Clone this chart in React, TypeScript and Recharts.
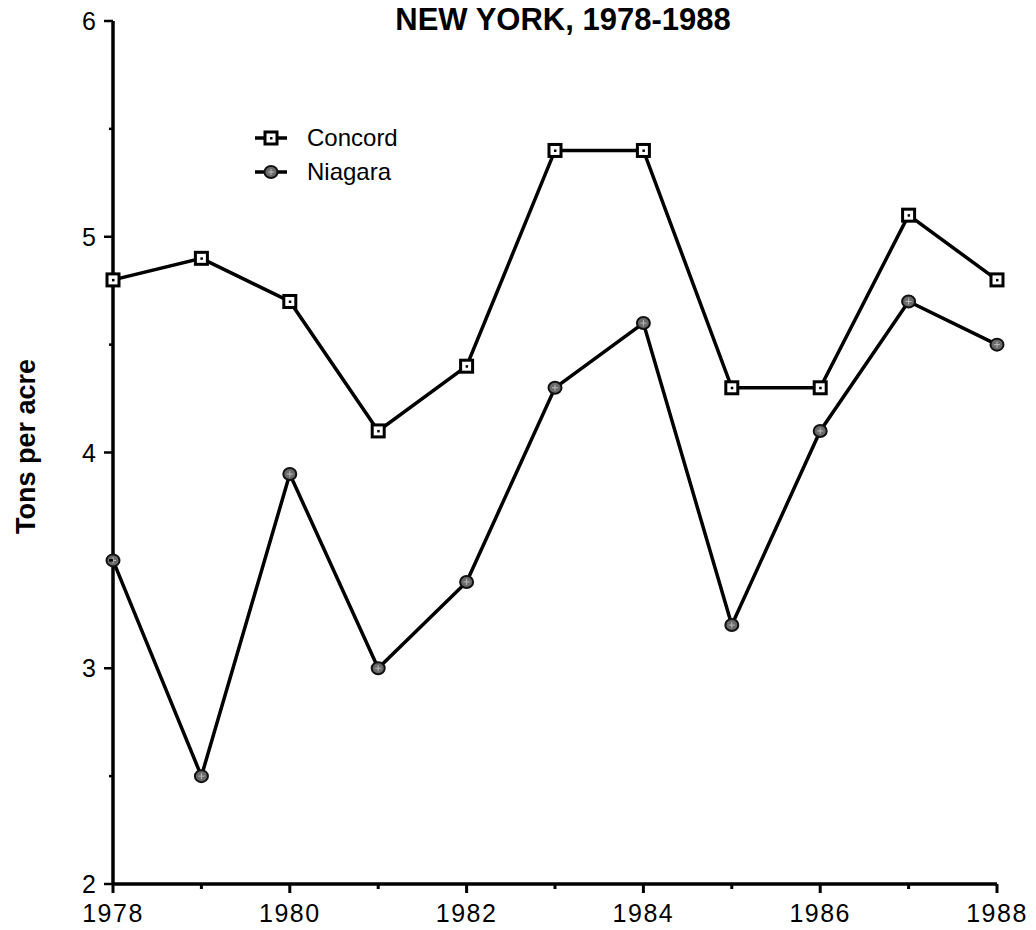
import React from 'react';
import { Legend, Line, LineChart, XAxis, YAxis } from 'recharts';

const years = [1978, 1979, 1980, 1981, 1982, 1983, 1984, 1985, 1986, 1987, 1988];
const concord = [4.8, 4.9, 4.7, 4.1, 4.4, 5.4, 5.4, 4.3, 4.3, 5.1, 4.8];
const niagara = [3.5, 2.5, 3.9, 3.0, 3.4, 4.3, 4.6, 3.2, 4.1, 4.7, 4.5];
const yTicks = [2, 2.5, 3, 3.5, 4, 4.5, 5, 5.5, 6];

const data = years.map((year, i) => ({ year, concord: concord[i], niagara: niagara[i] }));

const FONT = '"Liberation Sans", Arial, Helvetica, sans-serif';

const SquareDot = (props: any) => {
  const { cx, cy } = props;
  if (cx == null || cy == null) return null;
  return (
    <g>
      <rect x={cx - 6} y={cy - 6} width={12} height={12} fill="#fff" stroke="#000" strokeWidth={3} />
      <rect x={cx - 1} y={cy - 1} width={2.5} height={2.5} fill="#000" />
    </g>
  );
};

const RoundDot = (props: any) => {
  const { cx, cy } = props;
  if (cx == null || cy == null) return null;
  return (
    <g>
      <ellipse cx={cx} cy={cy} rx={6.5} ry={6} fill="#6a6a6a" stroke="#111" strokeWidth={2} />
      <path d={`M${cx - 3},${cy} L${cx + 3},${cy} M${cx},${cy - 3} L${cx},${cy + 3}`} stroke="#bbb" strokeWidth={1} />
    </g>
  );
};

const XTick = (props: any) => {
  const { x, y, payload } = props;
  const even = payload.value % 2 === 0;
  return (
    <g>
      <line x1={x} y1={y} x2={x} y2={y + (even ? 9 : 5)} stroke="#000" strokeWidth={3} />
      {even && (
        <text x={x} y={y + 38} textAnchor="middle" fontFamily={FONT} fontSize={25} letterSpacing={1.5} fill="#000">
          {payload.value}
        </text>
      )}
    </g>
  );
};

const YTick = (props: any) => {
  const { x, y, payload } = props;
  const major = Number.isInteger(payload.value);
  return (
    <g>
      <line x1={x - (major ? 9 : 4)} y1={y} x2={x} y2={y} stroke="#000" strokeWidth={2.5} />
      {major && (
        <text x={x - 17} y={y + 9} textAnchor="end" fontFamily={FONT} fontSize={25} fill="#000">
          {payload.value}
        </text>
      )}
    </g>
  );
};

const LegendBox = () => (
  <div style={{ fontFamily: FONT, fontSize: 24, color: '#000' }}>
    {[
      { name: 'Concord', Dot: SquareDot },
      { name: 'Niagara', Dot: RoundDot },
    ].map(({ name, Dot }) => (
      <div key={name} style={{ display: 'flex', alignItems: 'center', height: 34 }}>
        <svg width={36} height={20}>
          <line x1={2} y1={10} x2={34} y2={10} stroke="#000" strokeWidth={3.5} />
          <Dot cx={18} cy={10} />
        </svg>
        <span style={{ marginLeft: 18 }}>{name}</span>
      </div>
    ))}
  </div>
);

export default function App() {
  return (
    <div style={{ position: 'absolute', left: 0, top: 0 }}>
      <LineChart width={1036} height={930} data={data} margin={{ top: 21, right: 39, bottom: 0, left: 0 }}>
        <text x={563} y={30} textAnchor="middle" fontFamily={FONT} fontSize={31} fontWeight="bold" fill="#000">
          NEW YORK, 1978-1988
        </text>
        <XAxis
          dataKey="year"
          type="number"
          domain={[1978, 1988]}
          ticks={years}
          height={46}
          stroke="#000"
          strokeWidth={3.5}
          tickLine={false}
          tickSize={0}
          tickMargin={0}
          tick={<XTick />}
          interval={0}
        />
        <YAxis
          type="number"
          domain={[2, 6]}
          ticks={yTicks}
          width={113}
          stroke="#000"
          strokeWidth={3.5}
          tickLine={false}
          tickSize={0}
          tickMargin={0}
          tick={<YTick />}
          interval={0}
          label={({ viewBox }: any) => (
            <text
              x={35}
              y={viewBox.y + viewBox.height / 2 - 6}
              transform={`rotate(-90, 35, ${viewBox.y + viewBox.height / 2 - 6})`}
              textAnchor="middle"
              fontFamily={FONT}
              fontSize={27}
              fontWeight="bold"
              fill="#000"
            >
              Tons per acre
            </text>
          )}
        />
        <Legend
          layout="vertical"
          align="center"
          verticalAlign="middle"
          content={<LegendBox />}
          wrapperStyle={{ left: 253, top: 121, width: 200 }}
        />
        <Line
          type="linear"
          dataKey="concord"
          name="Concord"
          stroke="#000"
          strokeWidth={3.5}
          dot={<SquareDot />}
          isAnimationActive={false}
        />
        <Line
          type="linear"
          dataKey="niagara"
          name="Niagara"
          stroke="#000"
          strokeWidth={3.5}
          dot={<RoundDot />}
          isAnimationActive={false}
        />
      </LineChart>
    </div>
  );
}
